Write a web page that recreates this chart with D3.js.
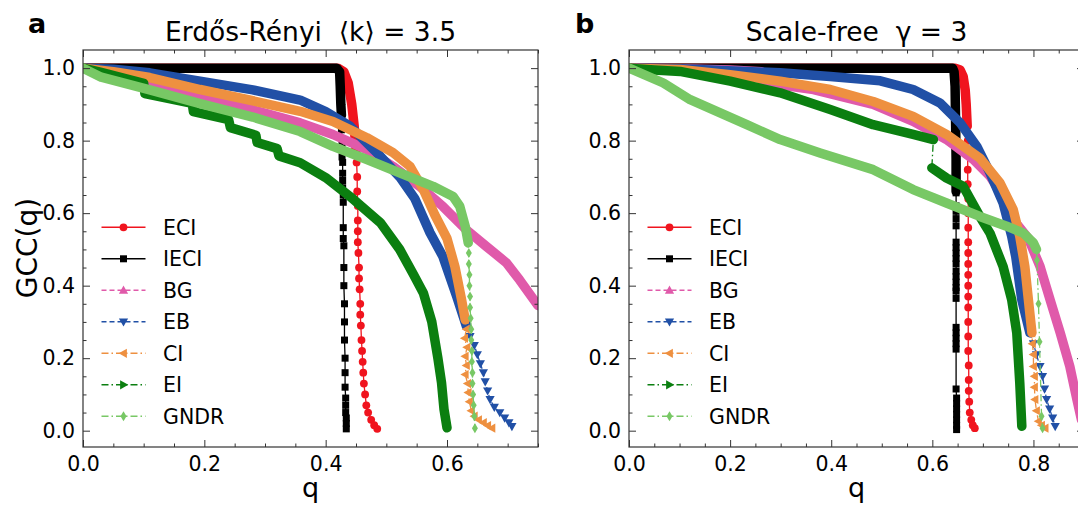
<!DOCTYPE html>
<html>
<head>
<meta charset="utf-8">
<script src="https://cdn.jsdelivr.net/npm/d3@7"></script>
<style>
  body { margin: 0; background: #fff; }
  svg { font-family: "DejaVu Sans", sans-serif; }
</style>
</head>
<body>
<svg id="fig" width="1078" height="506"></svg>
<script>
// ---- data: [q, GCC(q)] ----
// "band" parts are where the markers are so dense they form a thick line,
// "tail" parts are where single markers can be seen.

// panel a, Erdos-Renyi
const ER_ECI = [[0,1],[0.42,1],[0.43,0.99],[0.437,0.96],[0.443,0.9],[0.447,0.84],[0.45,0.775]];
const ER_ECI_tail = [[0.45,0.775],[0.451,0.74],[0.452,0.7],[0.452,0.66],[0.453,0.62],[0.453,0.58],[0.453,0.55],[0.453,0.52],[0.454,0.49],[0.455,0.45],[0.455,0.42],[0.456,0.39],[0.457,0.35],[0.457,0.32],[0.458,0.29],[0.459,0.25],[0.46,0.22],[0.461,0.19],[0.462,0.16],[0.463,0.13],[0.465,0.1],[0.467,0.07],[0.47,0.05],[0.475,0.03],[0.48,0.015],[0.485,0.005]];
const ER_IECI = [[0,1],[0.418,1],[0.423,0.99],[0.424,0.95],[0.425,0.9],[0.426,0.87]];
const ER_IECI_tail = [[0.426,0.87],[0.426,0.83],[0.427,0.8],[0.427,0.78],[0.427,0.755],[0.428,0.74],[0.428,0.71],[0.428,0.69],[0.428,0.67],[0.429,0.65],[0.429,0.63],[0.429,0.56],[0.429,0.53],[0.43,0.51],[0.43,0.45],[0.43,0.4],[0.431,0.35],[0.431,0.3],[0.431,0.25],[0.432,0.2],[0.432,0.16],[0.432,0.12],[0.433,0.09],[0.433,0.07],[0.433,0.05],[0.434,0.035],[0.434,0.02],[0.434,0.005]];
const ER_BG = [[0,1],[0.05,0.985],[0.1,0.966],[0.193,0.922],[0.28,0.885],[0.358,0.849],[0.412,0.817],[0.468,0.775],[0.511,0.729],[0.555,0.674],[0.593,0.619],[0.632,0.554],[0.665,0.508],[0.698,0.463],[0.72,0.415],[0.75,0.345]];
const ER_EB = [[0,1],[0.05,0.997],[0.11,0.987],[0.193,0.964],[0.28,0.94],[0.358,0.912],[0.4,0.88],[0.44,0.84],[0.49,0.757],[0.522,0.7],[0.547,0.64],[0.572,0.546],[0.593,0.481],[0.616,0.37],[0.632,0.288]];
const ER_EB_tail = [[0.632,0.288],[0.638,0.26],[0.645,0.235],[0.65,0.21],[0.655,0.185],[0.66,0.16],[0.663,0.135],[0.667,0.11],[0.671,0.086],[0.678,0.065],[0.687,0.05],[0.695,0.035],[0.702,0.022],[0.707,0.012]];
const ER_CI = [[0,1],[0.05,0.99],[0.11,0.974],[0.193,0.941],[0.28,0.91],[0.358,0.881],[0.412,0.853],[0.468,0.808],[0.511,0.767],[0.539,0.729],[0.561,0.665],[0.58,0.595],[0.6,0.53],[0.613,0.453],[0.624,0.361],[0.63,0.306]];
const ER_CI_tail = [[0.63,0.306],[0.632,0.28],[0.629,0.255],[0.633,0.23],[0.63,0.205],[0.632,0.18],[0.63,0.155],[0.634,0.13],[0.635,0.105],[0.637,0.08],[0.64,0.055],[0.645,0.04],[0.652,0.03],[0.66,0.022],[0.667,0.014],[0.674,0.007]];
const ER_EI = [[0,1],[0.03,0.988],[0.1,0.958],[0.102,0.93],[0.18,0.903],[0.182,0.88],[0.24,0.858],[0.243,0.836],[0.285,0.815],[0.287,0.795],[0.32,0.778],[0.323,0.758],[0.358,0.739],[0.4,0.698],[0.44,0.646],[0.49,0.574],[0.522,0.5],[0.545,0.43],[0.561,0.38],[0.575,0.3],[0.585,0.2],[0.591,0.132],[0.595,0.06],[0.6,0.008]];
const ER_GNDR = [[0,1],[0.03,0.975],[0.11,0.94],[0.193,0.902],[0.28,0.865],[0.358,0.825],[0.412,0.784],[0.468,0.748],[0.522,0.711],[0.577,0.674],[0.61,0.646],[0.621,0.619],[0.63,0.564],[0.635,0.518]];
const ER_GNDR_tail = [[0.635,0.518],[0.636,0.49],[0.636,0.46],[0.637,0.43],[0.637,0.4],[0.638,0.37],[0.638,0.34],[0.639,0.31],[0.64,0.28],[0.64,0.25],[0.641,0.22],[0.641,0.19],[0.642,0.16],[0.642,0.13],[0.643,0.1],[0.644,0.07],[0.645,0.04],[0.646,0.007]];

// panel b, scale-free
const SF_ECI = [[0,1],[0.645,1],[0.655,0.995],[0.661,0.977],[0.665,0.94],[0.667,0.9],[0.669,0.84]];
const SF_ECI_tail = [[0.669,0.84],[0.67,0.8],[0.67,0.76],[0.67,0.72],[0.67,0.68],[0.671,0.64],[0.671,0.6],[0.671,0.56],[0.671,0.52],[0.671,0.49],[0.671,0.46],[0.671,0.43],[0.671,0.4],[0.671,0.37],[0.671,0.34],[0.671,0.3],[0.671,0.26],[0.671,0.22],[0.672,0.18],[0.672,0.14],[0.672,0.11],[0.673,0.08],[0.674,0.05],[0.677,0.03],[0.68,0.015],[0.684,0.007]];
const SF_IECI = [[0,1],[0.64,1],[0.643,0.99],[0.645,0.95],[0.646,0.85],[0.647,0.75],[0.647,0.66]];
const SF_IECI_tail = [[0.647,0.656],[0.647,0.62],[0.647,0.605],[0.647,0.585],[0.647,0.565],[0.647,0.52],[0.647,0.505],[0.647,0.49],[0.647,0.475],[0.647,0.46],[0.647,0.44],[0.647,0.425],[0.647,0.41],[0.647,0.395],[0.647,0.385],[0.647,0.365],[0.647,0.285],[0.647,0.27],[0.647,0.255],[0.647,0.24],[0.647,0.225],[0.647,0.115],[0.648,0.09],[0.648,0.075],[0.648,0.06],[0.648,0.045],[0.648,0.03],[0.648,0.015],[0.648,0.003]];
const SF_BG = [[0,1],[0.1,0.998],[0.2,0.995],[0.262,0.99],[0.265,0.96],[0.365,0.941],[0.483,0.9],[0.562,0.853],[0.628,0.803],[0.681,0.748],[0.714,0.702],[0.74,0.646],[0.767,0.57],[0.79,0.53],[0.813,0.453],[0.833,0.361],[0.853,0.27],[0.872,0.177],[0.886,0.086],[0.895,0.03]];
const SF_EB = [[0,1],[0.101,0.998],[0.299,0.987],[0.398,0.977],[0.497,0.965],[0.562,0.941],[0.615,0.904],[0.655,0.849],[0.688,0.784],[0.714,0.711],[0.74,0.628],[0.757,0.536],[0.765,0.48],[0.777,0.361],[0.793,0.27]];
const SF_EB_tail = [[0.793,0.27],[0.8,0.24],[0.806,0.21],[0.813,0.177],[0.818,0.15],[0.822,0.115],[0.826,0.086],[0.832,0.06],[0.838,0.035],[0.843,0.012]];
const SF_CI = [[0,1],[0.101,0.996],[0.2,0.982],[0.299,0.964],[0.398,0.941],[0.483,0.908],[0.562,0.867],[0.628,0.817],[0.694,0.752],[0.734,0.683],[0.76,0.61],[0.773,0.536],[0.783,0.453],[0.79,0.361],[0.797,0.27]];
const SF_CI_tail = [[0.797,0.27],[0.798,0.24],[0.8,0.21],[0.8,0.177],[0.802,0.15],[0.802,0.12],[0.803,0.086],[0.806,0.055],[0.81,0.026],[0.816,0.015],[0.823,0.007]];
const SF_EI_1 = [[0,1],[0.05,0.995],[0.101,0.991],[0.2,0.964],[0.299,0.932],[0.398,0.886],[0.483,0.844],[0.562,0.817],[0.602,0.803]];
const SF_EI_2 = [[0.599,0.725],[0.628,0.697],[0.661,0.674],[0.694,0.591],[0.714,0.545],[0.74,0.453],[0.757,0.361],[0.767,0.27],[0.773,0.131],[0.777,0.012]];
const SF_GNDR = [[0,1],[0.068,0.959],[0.121,0.913],[0.233,0.844],[0.299,0.803],[0.378,0.766],[0.483,0.72],[0.562,0.665],[0.628,0.628],[0.694,0.591],[0.747,0.564],[0.78,0.545],[0.8,0.518],[0.806,0.5]];
const SF_GNDR_tail = [[0.806,0.5],[0.807,0.47],[0.81,0.35],[0.812,0.245],[0.816,0.04],[0.818,0.007]];

const methods = ["ECI", "IECI", "BG", "EB", "CI", "EI", "GNDR"];
const xTicksA = [0, 0.2, 0.4, 0.6];
const xTicksB = [0, 0.2, 0.4, 0.6, 0.8];
const yTicks = [0, 0.2, 0.4, 0.6, 0.8, 1.0];

// ---- styles ----
const style = {
  ECI:  { color: "#f0141e", dash: null,          marker: "circle" },
  IECI: { color: "#000000", dash: null,          marker: "square" },
  BG:   { color: "#e05aaa", dash: "5,3",         marker: "up" },
  EB:   { color: "#2150a6", dash: "5,3",         marker: "down" },
  CI:   { color: "#ee9040", dash: "7,3,1.5,3",   marker: "left" },
  EI:   { color: "#0b7f10", dash: "7,3,1.5,3",   marker: "right" },
  GNDR: { color: "#78c865", dash: "7,3,1.5,3",   marker: "diamond" }
};

function markerPath(type) {
  switch (type) {
    case "circle": return d3.symbol(d3.symbolCircle, 48)();
    case "square": return "M-3.5,-3.5H3.5V3.5H-3.5Z";
    case "up": return "M0,-4.8L4.6,3.4H-4.6Z";
    case "down": return "M0,4.8L4.6,-3.4H-4.6Z";
    case "left": return "M-4.8,0L3.4,-4.6V4.6Z";
    case "right": return "M4.8,0L-3.4,-4.6V4.6Z";
    case "diamond": return "M0,-5L3,0L0,5L-3,0Z";
  }
}

const svg = d3.select("#fig");
const y = d3.scaleLinear().domain([-0.045, 1.05]).range([447, 50]);

function drawPanel(p) {
  const x = d3.scaleLinear().domain([0, p.xMax]).range([p.left, p.left + 455]);
  const top = 50, bottom = 447, right = p.left + 455;
  const g = svg.append("g");

  const clipId = "clip-" + p.letter;
  svg.append("clipPath").attr("id", clipId)
    .append("rect").attr("x", p.left).attr("y", top)
    .attr("width", right - p.left).attr("height", bottom - top);

  const plot = g.append("g").attr("clip-path", `url(#${clipId})`);
  const line = d3.line().x(d => x(d[0])).y(d => y(d[1]));

  methods.forEach(m => {
    const s = p.series[m];
    const st = style[m];
    const sg = plot.append("g");
    const all = s.bands.flat().concat(s.tail || []);
    // thin connecting line in the legend style
    sg.append("path").attr("d", line(all))
      .attr("fill", "none").attr("stroke", st.color).attr("stroke-width", 1.3)
      .attr("stroke-dasharray", st.dash);
    // dense part
    s.bands.forEach(b => {
      sg.append("path").attr("d", line(b))
        .attr("fill", "none").attr("stroke", st.color).attr("stroke-width", 9.5)
        .attr("stroke-linejoin", "round").attr("stroke-linecap", "round");
    });
    // single markers
    sg.selectAll(".mk").data(s.tail || []).enter().append("path")
      .attr("class", "mk")
      .attr("d", markerPath(st.marker))
      .attr("transform", d => `translate(${x(d[0])},${y(d[1])})`)
      .attr("fill", st.color);
  });

  // axes, ticks inward on all four sides
  const fmt = d3.format(".1f");
  const xMinor = d3.range(0, p.xMax + 0.001, 0.05).filter(v => Math.abs(v * 5 - Math.round(v * 5)) > 1e-6);
  const yMinor = d3.range(0.05, 1.0, 0.05).filter(v => Math.abs(v * 5 - Math.round(v * 5)) > 1e-6);

  const axes = [
    { a: d3.axisBottom(x).tickValues(p.xTicks).tickSize(-7).tickPadding(9).tickFormat(fmt), t: `translate(0,${bottom})` },
    { a: d3.axisBottom(x).tickValues(xMinor).tickSize(-3.5).tickFormat(""), t: `translate(0,${bottom})` },
    { a: d3.axisTop(x).tickValues(p.xTicks).tickSize(-7).tickFormat(""), t: `translate(0,${top})` },
    { a: d3.axisTop(x).tickValues(xMinor).tickSize(-3.5).tickFormat(""), t: `translate(0,${top})` },
    { a: d3.axisLeft(y).tickValues(yTicks).tickSize(-7).tickPadding(8).tickFormat(fmt), t: `translate(${p.left},0)` },
    { a: d3.axisLeft(y).tickValues(yMinor).tickSize(-3.5).tickFormat(""), t: `translate(${p.left},0)` },
    { a: d3.axisRight(y).tickValues(yTicks).tickSize(-7).tickFormat(""), t: `translate(${right},0)` },
    { a: d3.axisRight(y).tickValues(yMinor).tickSize(-3.5).tickFormat(""), t: `translate(${right},0)` }
  ];
  axes.forEach(ax => {
    const ag = g.append("g").attr("transform", ax.t).call(ax.a);
    ag.select(".domain").remove();
    ag.selectAll("line").attr("stroke", "#333").attr("stroke-width", 1);
    ag.selectAll("text").attr("font-size", 20.5).attr("fill", "#000")
      .attr("font-family", "DejaVu Sans");
  });

  g.append("rect").attr("x", p.left).attr("y", top)
    .attr("width", right - p.left).attr("height", bottom - top)
    .attr("fill", "none").attr("stroke", "#333").attr("stroke-width", 1.2);

  // legend
  methods.forEach((m, i) => {
    const st = style[m];
    const ly = 227.3 + i * 31.5;
    const lg = g.append("g");
    lg.append("line").attr("x1", p.left + 18.5).attr("x2", p.left + 62.5)
      .attr("y1", ly).attr("y2", ly)
      .attr("stroke", st.color).attr("stroke-width", 1.4).attr("stroke-dasharray", st.dash);
    lg.append("path").attr("d", markerPath(st.marker))
      .attr("transform", `translate(${p.left + 40.5},${ly})`).attr("fill", st.color);
    lg.append("text").attr("x", p.left + 80).attr("y", ly).attr("dy", "0.36em")
      .attr("font-size", 20.5).text(m);
  });

  // titles and labels
  g.append("text").attr("x", (p.left + right) / 2).attr("y", 41)
    .attr("text-anchor", "middle").attr("font-size", 26.5)
    .style("white-space", "pre").text(p.title);
  g.append("text").attr("x", p.letterX).attr("y", 33)
    .attr("font-size", 27).attr("font-weight", "bold").text(p.letter);
  g.append("text").attr("x", (p.left + right) / 2).attr("y", 497)
    .attr("text-anchor", "middle").attr("font-size", 27).text("q");
}

drawPanel({
  letter: "a", letterX: 28, left: 83, xMax: 0.75, xTicks: xTicksA,
  title: "Erdős-Rényi  ⟨k⟩ = 3.5",
  series: {
    ECI:  { bands: [ER_ECI], tail: ER_ECI_tail },
    IECI: { bands: [ER_IECI], tail: ER_IECI_tail },
    BG:   { bands: [ER_BG] },
    EB:   { bands: [ER_EB], tail: ER_EB_tail },
    CI:   { bands: [ER_CI], tail: ER_CI_tail },
    EI:   { bands: [ER_EI] },
    GNDR: { bands: [ER_GNDR], tail: ER_GNDR_tail }
  }
});

drawPanel({
  letter: "b", letterX: 575, left: 629, xMax: 0.9, xTicks: xTicksB,
  title: "Scale-free  γ = 3",
  series: {
    ECI:  { bands: [SF_ECI], tail: SF_ECI_tail },
    IECI: { bands: [SF_IECI], tail: SF_IECI_tail },
    BG:   { bands: [SF_BG] },
    EB:   { bands: [SF_EB], tail: SF_EB_tail },
    CI:   { bands: [SF_CI], tail: SF_CI_tail },
    EI:   { bands: [SF_EI_1, SF_EI_2] },
    GNDR: { bands: [SF_GNDR], tail: SF_GNDR_tail }
  }
});

svg.append("text")
  .attr("transform", "translate(37,248) rotate(-90)")
  .attr("text-anchor", "middle").attr("font-size", 28).text("GCC(q)");
</script>
</body>
</html>
